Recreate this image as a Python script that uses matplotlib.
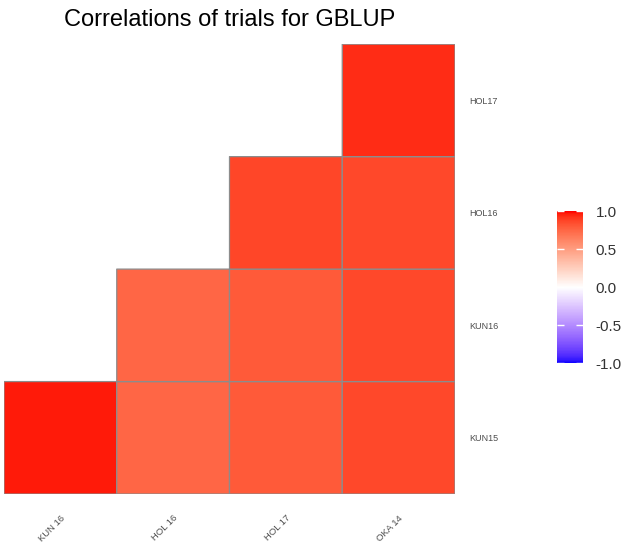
import matplotlib
matplotlib.use('Agg')
import matplotlib.pyplot as plt
from matplotlib.colors import ListedColormap
import numpy as np

plt.rcParams['font.family'] = ['Liberation Sans', 'DejaVu Sans']

title = 'Correlations of trials for GBLUP'
col_labels = ['KUN 16', 'HOL 16', 'HOL 17', 'OKA 14']
row_labels = ['KUN15', 'KUN16', 'HOL16', 'HOL17']   # bottom to top

# lower triangle of the correlation matrix, NaN = hidden cell
kun15 = [0.97, 0.75, 0.80, 0.86]
kun16 = [np.nan, 0.75, 0.80, 0.86]
hol16 = [np.nan, np.nan, 0.87, 0.86]
hol17 = [np.nan, np.nan, np.nan, 0.94]

corr = np.ma.masked_invalid(np.array([kun15, kun16, hol16, hol17]))


# ggplot style gradient2 (blue - white - red), interpolated in Lab
def srgb_to_lab(c):
    c = np.asarray(c, float)
    lin = np.where(c > 0.04045, ((c + 0.055) / 1.055) ** 2.4, c / 12.92)
    M = np.array([[0.4124, 0.3576, 0.1805],
                  [0.2126, 0.7152, 0.0722],
                  [0.0193, 0.1192, 0.9505]])
    xyz = M @ lin / np.array([0.95047, 1.0, 1.08883])
    f = np.where(xyz > 0.008856, np.cbrt(xyz), 7.787 * xyz + 16 / 116)
    return np.array([116 * f[1] - 16, 500 * (f[0] - f[1]), 200 * (f[1] - f[2])])


def lab_to_srgb(lab):
    L, a, b = lab
    fy = (L + 16) / 116
    fx = fy + a / 500
    fz = fy - b / 200
    f = np.array([fx, fy, fz])
    xyz = np.where(f ** 3 > 0.008856, f ** 3, (f - 16 / 116) / 7.787)
    xyz = xyz * np.array([0.95047, 1.0, 1.08883])
    Minv = np.array([[3.2406, -1.5372, -0.4986],
                     [-0.9689, 1.8758, 0.0415],
                     [0.0557, -0.2040, 1.0570]])
    lin = Minv @ xyz
    c = np.where(lin > 0.0031308, 1.055 * np.clip(lin, 0, None) ** (1 / 2.4) - 0.055, 12.92 * lin)
    return np.clip(c, 0, 1)


lab_b = srgb_to_lab([0, 0, 1])
lab_w = srgb_to_lab([1, 1, 1])
lab_r = srgb_to_lab([1, 0, 0])
cols = []
for t in np.linspace(-1, 1, 256):
    if t < 0:
        lab = lab_w + (lab_b - lab_w) * (-t)
    else:
        lab = lab_w + (lab_r - lab_w) * t
    cols.append(lab_to_srgb(lab))
cmap = ListedColormap(cols)

fig = plt.figure(figsize=(6.33, 5.52), dpi=100)
ax = fig.add_axes([0.0063, 0.105, 0.7125, 0.815])
cax = fig.add_axes([0.88, 0.342, 0.041, 0.275])

# pcolor drops the masked (upper) cells completely, edges included
mesh = ax.pcolor(np.arange(5), np.arange(5), corr, cmap=cmap, vmin=-1, vmax=1,
                 edgecolors='#8c8c8c', linewidth=0.9)
ax.set_xlim(0, 4)
ax.set_ylim(0, 4)
for s in ax.spines.values():
    s.set_visible(False)

ax.set_xticks(np.arange(4) + 0.5)
ax.set_xticklabels(col_labels, rotation=45, ha='right', rotation_mode='anchor',
                   fontsize=6.8, color='#4d4d4d')
ax.yaxis.tick_right()
ax.set_yticks(np.arange(4) + 0.5)
ax.set_yticklabels(row_labels, fontsize=6.5, color='#4d4d4d')
ax.tick_params(length=0, pad=10)
ax.tick_params(axis='x', pad=14)

ax.set_title(title, fontsize=17, pad=13)

cb = fig.colorbar(mesh, cax=cax)
cb.outline.set_visible(False)
cb.set_ticks([-1, -0.5, 0, 0.5, 1])
cb.set_ticklabels(['-1.0', '-0.5', '0.0', '0.5', '1.0'])
cax.yaxis.set_ticks_position('both')
cax.tick_params(direction='in', color='white', length=5, width=1,
                labelsize=11, labelcolor='#333333', pad=9)
cax.tick_params(labelleft=False, labelright=True)

fig.savefig('out.png', dpi=100, facecolor='white')
